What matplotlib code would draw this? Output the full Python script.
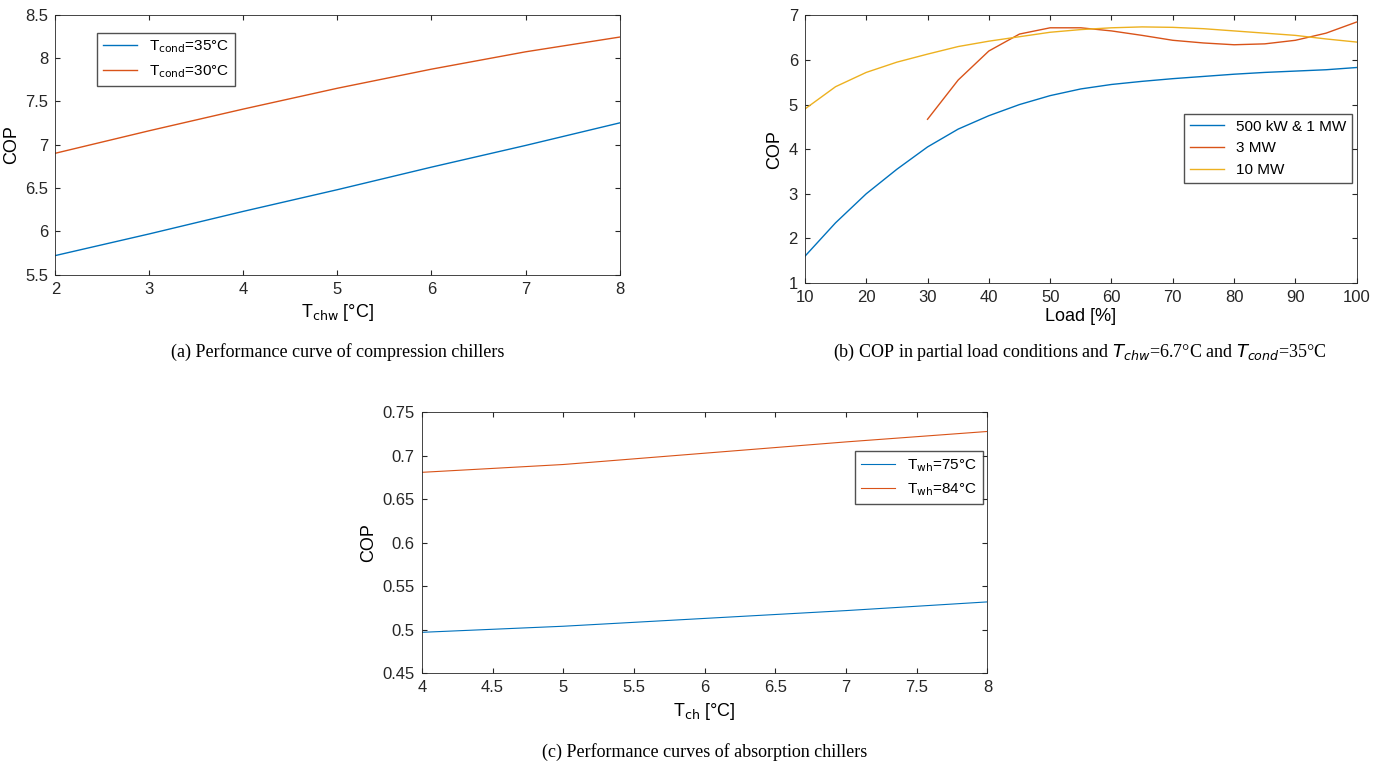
import matplotlib
matplotlib.use("Agg")
import matplotlib.pyplot as plt

# (a) compression chillers
t_chw = [2, 3, 4, 5, 6, 7, 8]
cop_cond35 = [5.72, 5.97, 6.23, 6.48, 6.74, 6.99, 7.25]
cop_cond30 = [6.90, 7.16, 7.41, 7.65, 7.87, 8.07, 8.24]

# (b) partial load
load = [10, 15, 20, 25, 30, 35, 40, 45, 50, 55, 60, 65, 70, 75, 80, 85, 90, 95, 100]
cop_500kw = [1.6, 2.35, 3.0, 3.55, 4.05, 4.45, 4.75, 5.0, 5.2, 5.35, 5.45, 5.52, 5.58,
             5.63, 5.68, 5.72, 5.75, 5.78, 5.83]
load_3mw = [30, 35, 40, 45, 50, 55, 60, 65, 70, 75, 80, 85, 90, 95, 100]
cop_3mw = [4.67, 5.55, 6.2, 6.58, 6.72, 6.72, 6.65, 6.55, 6.44, 6.38, 6.34, 6.36, 6.44, 6.6, 6.85]
cop_10mw = [4.9, 5.4, 5.72, 5.95, 6.13, 6.3, 6.42, 6.52, 6.62, 6.68, 6.72, 6.74, 6.73,
            6.7, 6.65, 6.6, 6.55, 6.47, 6.4]

# (c) absorption chillers
t_ch = [4, 5, 6, 7, 8]
cop_wh75 = [0.497, 0.504, 0.513, 0.522, 0.532]
cop_wh84 = [0.681, 0.690, 0.703, 0.716, 0.728]

BLUE, ORANGE, YELLOW = "#0072BD", "#D95319", "#EDB120"

plt.rcParams["font.family"] = ["Liberation Sans", "DejaVu Sans"]
fig = plt.figure(figsize=(13.83, 7.65), dpi=100)


def style(ax):
    ax.tick_params(direction="in", colors="#262626", labelsize=12, top=True, right=True,
                   labeltop=False, labelright=False, pad=5)
    for s in ax.spines.values():
        s.set_color("#262626")
        s.set_linewidth(0.6)


ax1 = fig.add_axes([0.040, 0.641, 0.408, 0.340])
ax1.plot(t_chw, cop_cond35, color=BLUE, lw=1, label="T$_{\\mathrm{cond}}$=35°C")
ax1.plot(t_chw, cop_cond30, color=ORANGE, lw=1, label="T$_{\\mathrm{cond}}$=30°C")
ax1.set_xlim(2, 8)
ax1.set_ylim(5.5, 8.5)
ax1.set_yticks([5.5, 6, 6.5, 7, 7.5, 8, 8.5])
ax1.set_yticklabels(["5.5", "6", "6.5", "7", "7.5", "8", "8.5"])
ax1.set_xlabel("T$_{\\mathrm{chw}}$ [°C]", fontsize=13)
ax1.set_ylabel("COP", fontsize=13)
ax1.legend(loc="upper left", bbox_to_anchor=(0.06, 0.96), fontsize=11, fancybox=False,
           edgecolor="#262626", handlelength=2.2)
style(ax1)

ax2 = fig.add_axes([0.582, 0.630, 0.399, 0.350])
ax2.plot(load, cop_500kw, color=BLUE, lw=1, label="500 kW & 1 MW")
ax2.plot(load_3mw, cop_3mw, color=ORANGE, lw=1, label="3 MW")
ax2.plot(load, cop_10mw, color=YELLOW, lw=1, label="10 MW")
ax2.set_xlim(10, 100)
ax2.set_ylim(1, 7)
ax2.set_xticks(range(10, 101, 10))
ax2.set_xlabel("Load [%]", fontsize=13, labelpad=2)
ax2.set_ylabel("COP", fontsize=13)
ax2.legend(loc="upper right", bbox_to_anchor=(1.0, 0.65), fontsize=11, fancybox=False,
           edgecolor="#262626", handlelength=2.2, borderaxespad=0.3)
style(ax2)

ax3 = fig.add_axes([0.305, 0.120, 0.409, 0.341])
ax3.plot(t_ch, cop_wh75, color=BLUE, lw=0.8, label="T$_{\\mathrm{wh}}$=75°C")
ax3.plot(t_ch, cop_wh84, color=ORANGE, lw=0.8, label="T$_{\\mathrm{wh}}$=84°C")
ax3.set_xlim(4, 8)
ax3.set_ylim(0.45, 0.75)
ax3.set_xticks([4, 4.5, 5, 5.5, 6, 6.5, 7, 7.5, 8])
ax3.set_xticklabels(["4", "4.5", "5", "5.5", "6", "6.5", "7", "7.5", "8"])
ax3.set_yticks([0.45, 0.5, 0.55, 0.6, 0.65, 0.7, 0.75])
ax3.set_yticklabels(["0.45", "0.5", "0.55", "0.6", "0.65", "0.7", "0.75"])
ax3.set_xlabel("T$_{\\mathrm{ch}}$ [°C]", fontsize=13)
ax3.set_ylabel("COP", fontsize=13)
ax3.legend(loc="upper right", bbox_to_anchor=(1.0, 0.87), fontsize=11, fancybox=False,
           edgecolor="#262626", handlelength=2.2, borderaxespad=0.3)
style(ax3)

cap = dict(fontsize=13, family=["Liberation Serif", "DejaVu Serif"], ha="center")
fig.text(338 / 1383, 1 - 357 / 765, "(a) Performance curve of compression chillers", **cap)
fig.text(1080 / 1383, 1 - 357 / 765,
         "(b) COP in partial load conditions and $T_{chw}$=6.7°C and $T_{cond}$=35°C", **cap)
fig.text(705 / 1383, 1 - 757 / 765, "(c) Performance curves of absorption chillers", **cap)

fig.savefig("out.png", dpi=100)
